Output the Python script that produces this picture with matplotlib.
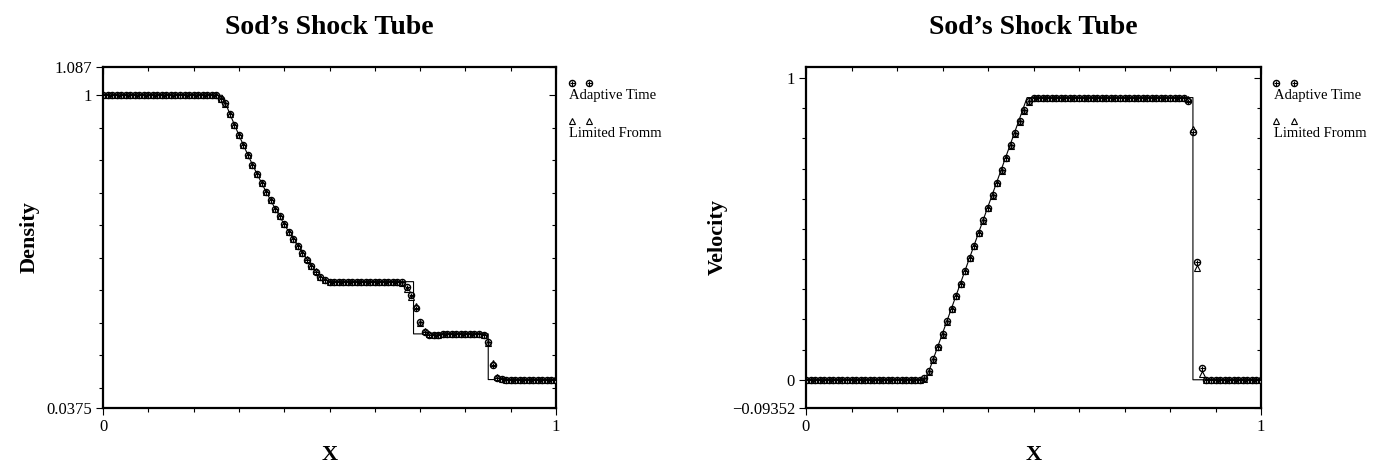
import matplotlib
matplotlib.use("Agg")
import matplotlib.pyplot as plt
from matplotlib.ticker import FixedLocator, MultipleLocator
from matplotlib.lines import Line2D
import numpy as np

plt.rcParams['font.family'] = ['Liberation Serif', 'DejaVu Serif']

# ---------------- data ----------------
x_cells = np.arange(101) / 100.0

density_adaptive = ([1.0] * 26 +
                    [0.99, 0.975, 0.943, 0.910, 0.877, 0.846, 0.816, 0.786,
                     0.758, 0.730, 0.703, 0.677, 0.651, 0.627, 0.603, 0.580,
                     0.557, 0.536, 0.515, 0.494, 0.475, 0.456, 0.440, 0.430] +
                    [0.426] * 16 +
                    [0.424, 0.411, 0.385, 0.346, 0.303, 0.272, 0.263, 0.261, 0.262] +
                    [0.265] * 9 +
                    [0.262, 0.241, 0.170, 0.130, 0.126] +
                    [0.125] * 12)

density_fromm = ([1.0] * 26 +
                 [0.99, 0.973, 0.942, 0.909, 0.877, 0.846, 0.815, 0.786,
                  0.757, 0.730, 0.703, 0.677, 0.651, 0.627, 0.603, 0.580,
                  0.557, 0.536, 0.515, 0.495, 0.476, 0.458, 0.442, 0.431] +
                 [0.426] * 16 +
                 [0.422, 0.405, 0.380, 0.350, 0.300, 0.275, 0.265, 0.262, 0.262] +
                 [0.265] * 9 +
                 [0.262, 0.237, 0.175, 0.133, 0.126] +
                 [0.125] * 12)

velocity_adaptive = ([0.0] * 26 +
                     [0.005, 0.03, 0.07, 0.11, 0.153, 0.194, 0.236, 0.278,
                      0.319, 0.361, 0.403, 0.444, 0.486, 0.528, 0.569, 0.611,
                      0.653, 0.694, 0.736, 0.778, 0.819, 0.858, 0.895, 0.925] +
                     [0.935] * 34 +
                     [0.925, 0.82, 0.39, 0.04] +
                     [0.0] * 13)

velocity_fromm = ([0.0] * 26 +
                  [0.004, 0.025, 0.065, 0.108, 0.150, 0.192, 0.234, 0.276,
                   0.318, 0.360, 0.402, 0.443, 0.485, 0.527, 0.568, 0.610,
                   0.652, 0.693, 0.735, 0.776, 0.816, 0.855, 0.890, 0.920] +
                  [0.935] * 34 +
                  [0.93, 0.83, 0.37, 0.02] +
                  [0.0] * 13)

# exact solution (piecewise vertices)
exact_x_density = [0.0, 0.2634, 0.28, 0.30, 0.32, 0.34, 0.36, 0.38, 0.40,
                   0.42, 0.44, 0.46, 0.48, 0.4859, 0.6855, 0.6855,
                   0.8504, 0.8504, 1.0]
exact_density = [1.0, 1.0, 0.9428, 0.8774, 0.8158, 0.7577, 0.7030, 0.6514,
                 0.6030, 0.5574, 0.5146, 0.4746, 0.4370, 0.4263, 0.4263,
                 0.2656, 0.2656, 0.125, 0.125]

exact_x_velocity = [0.0, 0.2634, 0.4859, 0.8504, 0.8504, 1.0]
exact_velocity = [0.0, 0.0, 0.935, 0.935, 0.0, 0.0]

density_limits = (0.0375, 1.087)
density_ticks = [0.0375, 1.0, 1.087]
density_ticklabels = ["0.0375", "1", "1.087"]

velocity_limits = (-0.09352, 1.0364)
velocity_ticks = [-0.09352, 0.0, 1.0]
velocity_ticklabels = ["\u22120.09352", "0", "1"]

x_ticks = [0.0, 1.0]
x_ticklabels = ["0", "1"]

series_names = ["Adaptive Time", "Limited Fromm"]
title_text = "Sod\u2019s Shock Tube"

# ---------------- figure ----------------
W, H = 1377, 468
fig = plt.figure(figsize=(W / 100, H / 100), dpi=100)

CIRCLE = dict(marker='o', ms=4.4, mfc='none', mec='black', mew=1.0)
PLUS = dict(marker='+', ms=3.6, mec='black', mew=0.8)
TRIANGLE = dict(marker='^', ms=3.8, mfc='white', mec='black', mew=0.8)


def px_rect(left, top, right, bottom):
    return [left / W, 1 - bottom / H, (right - left) / W, (bottom - top) / H]


def style_axes(ax, ylim, yticks, ylabels):
    ax.set_xlim(0, 1)
    ax.set_ylim(*ylim)
    ax.xaxis.set_major_locator(FixedLocator(x_ticks))
    ax.set_xticklabels(x_ticklabels)
    ax.xaxis.set_minor_locator(MultipleLocator(0.1))
    ax.yaxis.set_major_locator(FixedLocator(yticks))
    ax.set_yticklabels(ylabels)
    ax.yaxis.set_minor_locator(FixedLocator([v / 10 for v in range(1, 10)]))
    ax.tick_params(which='both', direction='out', right=False, top=False,
                   labelsize=12, width=0.8, pad=3)
    ax.tick_params(which='major', length=5)
    ax.tick_params(which='minor', length=3)
    for s in ax.spines.values():
        s.set_linewidth(1.6)


def mirror_ticks(rect, ylim, yticks):
    m = fig.add_axes(rect, facecolor='none')
    m.set_xlim(0, 1)
    m.set_ylim(*ylim)
    m.xaxis.set_major_locator(FixedLocator(x_ticks))
    m.xaxis.set_minor_locator(MultipleLocator(0.1))
    m.yaxis.set_major_locator(FixedLocator(yticks))
    m.yaxis.set_minor_locator(FixedLocator([v / 10 for v in range(1, 10)]))
    m.tick_params(which='both', direction='in', left=False, bottom=False,
                  right=True, top=True, labelleft=False, labelbottom=False,
                  width=0.8)
    m.tick_params(which='major', length=5)
    m.tick_params(which='minor', length=3)
    for s in m.spines.values():
        s.set_visible(False)
    return m


def draw_series(ax, ex_x, ex_y, y_a, y_b):
    ax.plot(ex_x, ex_y, color='black', lw=0.8, zorder=2)
    ax.plot(x_cells, y_b, linestyle='none', zorder=3, **TRIANGLE)
    ax.plot(x_cells, y_a, linestyle='none', zorder=4, **CIRCLE)
    ax.plot(x_cells, y_a, linestyle='none', zorder=4, **PLUS)


def draw_legend(x0, x1):
    tf = fig.transFigure
    for xx in (x0, x1):
        fx = xx / W
        fig.add_artist(Line2D([fx], [1 - 82.7 / H], transform=tf, **CIRCLE))
        fig.add_artist(Line2D([fx], [1 - 82.7 / H], transform=tf, **PLUS))
        fig.add_artist(Line2D([fx], [1 - 120.7 / H], transform=tf, **TRIANGLE))
    fig.text((x0 - 2.5) / W, 1 - 96 / H, series_names[0], fontsize=10.5,
             va='center', ha='left')
    fig.text((x0 - 2.5) / W, 1 - 133.5 / H, series_names[1], fontsize=10.5,
             va='center', ha='left')


# Density panel
rect_d = px_rect(103, 67, 556, 408)
ax_d = fig.add_axes(rect_d)
draw_series(ax_d, exact_x_density, exact_density, density_adaptive, density_fromm)
style_axes(ax_d, density_limits, density_ticks, density_ticklabels)
mirror_ticks(rect_d, density_limits, density_ticks)

# Velocity panel
rect_v = px_rect(806, 67, 1261, 408)
ax_v = fig.add_axes(rect_v)
draw_series(ax_v, exact_x_velocity, exact_velocity, velocity_adaptive, velocity_fromm)
style_axes(ax_v, velocity_limits, velocity_ticks, velocity_ticklabels)
mirror_ticks(rect_v, velocity_limits, velocity_ticks)

# titles and axis labels
for cx in (329.5, 1033.5):
    fig.text(cx / W, 1 - 27 / H, title_text, fontsize=20, fontweight='bold',
             ha='center', va='center')
    fig.text(cx / W, 1 - 455 / H, "X", fontsize=16, fontweight='bold',
             ha='center', va='center')
fig.text(30 / W, 1 - 237 / H, "Density", fontsize=16, fontweight='bold',
         rotation=90, ha='center', va='center')
fig.text(718 / W, 1 - 237 / H, "Velocity", fontsize=16, fontweight='bold',
         rotation=90, ha='center', va='center')

draw_legend(571.7, 589)
draw_legend(1276, 1294)

fig.savefig("out.png", dpi=100)
